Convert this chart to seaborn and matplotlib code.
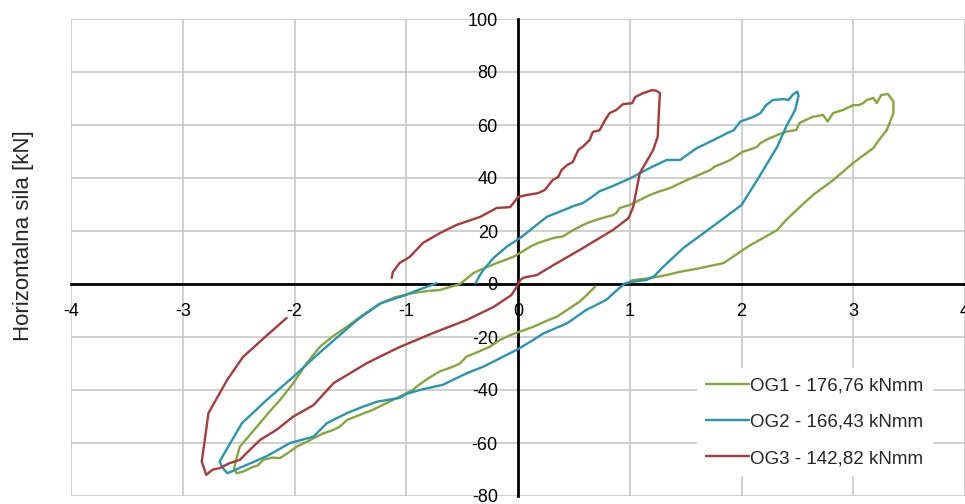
import numpy as np
import pandas as pd
import matplotlib
matplotlib.use("Agg")
import matplotlib.pyplot as plt
import seaborn as sns
from matplotlib.lines import Line2D

# ---------------- data ----------------
series_names = ["OG1 - 176,76 kNmm", "OG2 - 166,43 kNmm", "OG3 - 142,82 kNmm"]
series_colors = ["#84A83C", "#2A95B2", "#AA3A3A"]

og1_disp = [0.69, 0.62, 0.55, 0.45, 0.35, 0.25, 0.14, 0.05, 0.0, -0.08, -0.16, -0.25, -0.35, -0.46,
            -0.52, -0.60, -0.70, -0.80, -0.90, -0.94, -1.06, -1.18, -1.30, -1.42, -1.53, -1.60, -1.65,
            -1.75, -1.86, -1.98, -2.05, -2.13, -2.20, -2.28, -2.33, -2.37, -2.42, -2.46, -2.52, -2.54,
            -2.53, -2.49, -2.40, -2.31, -2.22, -2.13, -2.01, -1.89, -1.77, -1.65, -1.53, -1.40, -1.23,
            -1.10, -0.94, -0.80, -0.70, -0.60, -0.52, -0.46, -0.40, -0.34, -0.27, -0.19, -0.10, -0.04,
            0.03, 0.11, 0.18, 0.26, 0.33, 0.40, 0.48, 0.55, 0.62, 0.70, 0.78, 0.85, 0.88, 0.91, 1.00,
            1.08, 1.18, 1.27, 1.36, 1.44, 1.51, 1.62, 1.72, 1.76, 1.83, 1.90, 2.01, 2.08, 2.14, 2.17,
            2.25, 2.32, 2.40, 2.49, 2.52, 2.58, 2.64, 2.73, 2.77, 2.82, 2.91, 3.00, 3.05, 3.09, 3.12,
            3.18, 3.21, 3.25, 3.31, 3.36, 3.36, 3.30, 3.21, 3.18, 3.09, 3.00, 2.82, 2.64, 2.52, 2.40,
            2.32, 2.20, 2.08, 1.99, 1.84, 1.63, 1.45, 1.33, 1.18, 1.03, 1.00]
og1_force = [-1.0, -4.0, -6.7, -9.5, -12.3, -14.0, -16.1, -17.5, -18.2, -19.5, -21.1, -23.6, -25.5, -27.4,
             -30.0, -31.5, -33.0, -35.5, -38.5, -40.0, -42.5, -45.0, -47.5, -49.5, -51.3, -54.0, -55.0,
             -56.5, -58.9, -61.4, -63.5, -65.7, -65.5, -66.4, -68.5, -69.0, -70.0, -70.8, -71.4, -69.5,
             -67.6, -61.4, -57.0, -52.5, -48.0, -43.8, -37.4, -29.8, -23.6, -19.5, -16.1, -12.0, -7.3,
             -5.0, -3.4, -2.6, -2.3, -1.0, 0.0, 2.0, 4.1, 5.3, 6.5, 7.9, 9.3, 10.3,
             12.0, 14.1, 15.5, 16.6, 17.5, 17.9, 20.0, 21.6, 23.0, 24.2, 25.2, 26.0, 26.8, 28.7, 29.8,
             31.5, 33.6, 35.0, 36.2, 37.8, 39.2, 41.2, 43.0, 44.3, 45.5, 46.8, 49.9, 50.8, 51.8, 53.2,
             55.0, 56.2, 57.5, 58.1, 60.8, 62.0, 63.1, 63.8, 61.3, 64.5, 65.7, 67.5, 67.5, 68.3, 69.4,
             70.2, 68.3, 71.3, 71.7, 68.8, 64.5, 58.1, 53.2, 51.3, 48.5, 45.7, 39.2, 33.6, 29.0, 24.2,
             20.4, 17.5, 14.7, 12.2, 7.9, 6.0, 4.6, 3.4, 2.2, 1.5, 0.9]

og2_disp = [-0.38, -0.34, -0.31, -0.22, -0.10, 0.02, 0.11, 0.26, 0.41, 0.50, 0.58, 0.65, 0.73, 0.85,
            1.00, 1.18, 1.33, 1.45, 1.60, 1.72, 1.87, 1.93, 1.99, 2.11, 2.17, 2.22, 2.28, 2.38, 2.42,
            2.46, 2.50, 2.51, 2.48, 2.40, 2.32, 2.14, 2.00, 1.78, 1.48, 1.30, 1.22, 1.15, 1.03, 0.96,
            0.88, 0.79, 0.61, 0.44, 0.23, 0.14, 0.0, -0.16, -0.31, -0.46, -0.67, -0.88, -1.00, -1.06,
            -1.26, -1.40, -1.53, -1.71, -1.83, -2.04, -2.25, -2.43, -2.55, -2.60, -2.64, -2.67, -2.61,
            -2.47, -2.25, -2.01, -1.83, -1.68, -1.44, -1.23, -1.00, -0.94, -0.73]
og2_force = [0.3, 3.4, 5.3, 9.8, 14.1, 17.4, 20.4, 25.4, 27.9, 29.5, 30.5, 32.5, 35.0, 37.0,
             39.8, 43.8, 46.8, 46.8, 51.3, 53.7, 56.9, 58.0, 61.3, 63.1, 64.5, 67.5, 69.4, 69.8, 69.4,
             71.5, 72.6, 71.0, 65.7, 59.4, 51.8, 39.2, 29.8, 22.9, 13.6, 6.5, 3.0, 1.5, 0.9, 0.3,
             -2.5, -6.0, -9.8, -14.8, -18.6, -21.0, -24.6, -28.0, -31.2, -33.7, -38.0, -40.0, -41.5, -43.0,
             -44.4, -46.5, -48.7, -52.5, -57.6, -60.0, -65.0, -68.3, -70.5, -71.4, -69.5, -67.0, -62.6,
             -52.5, -43.8, -35.0, -28.0, -22.4, -13.6, -7.3, -4.1, -3.0, 0.3]

og3_disp = [-2.07, -2.25, -2.46, -2.60, -2.77, -2.80, -2.83, -2.79, -2.73, -2.67, -2.58, -2.49, -2.40,
            -2.31, -2.16, -2.01, -1.83, -1.65, -1.50, -1.35, -1.06, -0.76, -0.46, -0.22, -0.06, -0.01,
            0.02, 0.05, 0.17, 0.32, 0.55, 0.85, 0.99, 1.03, 1.09, 1.21, 1.25, 1.26, 1.27, 1.24, 1.20,
            1.12, 1.05, 1.02, 0.94, 0.88, 0.82, 0.78, 0.73, 0.67, 0.64, 0.58, 0.54, 0.49, 0.44, 0.39,
            0.36, 0.31, 0.24, 0.18, 0.08, 0.0, -0.07, -0.19, -0.34, -0.55, -0.70, -0.85, -0.97, -1.06,
            -1.12, -1.13]
og3_force = [-12.8, -19.5, -27.5, -36.0, -48.7, -58.0, -67.0, -72.0, -70.0, -69.5, -67.6, -66.4, -62.6,
             -58.9, -55.0, -50.0, -45.7, -37.4, -33.6, -29.8, -23.8, -18.5, -13.6, -8.7, -4.2, -1.0,
             1.5, 2.4, 3.4, 7.2, 12.8, 20.4, 24.9, 29.0, 41.8, 50.6, 55.6, 64.4, 72.0, 72.9, 73.2,
             72.0, 70.6, 68.2, 67.9, 65.7, 64.5, 61.9, 58.0, 57.4, 54.3, 51.8, 50.6, 46.0, 44.9, 43.0,
             40.4, 39.2, 35.5, 34.3, 33.6, 32.8, 29.0, 28.7, 25.3, 22.3, 19.2, 15.5, 10.2, 7.9,
             4.5, 2.3]

x_ticks = [-4, -3, -2, -1, 0, 1, 2, 3, 4]
y_ticks = [-80, -60, -40, -20, 0, 20, 40, 60, 80, 100]
y_label = "Horizontalna sila [kN]"

# ---------------- build table ----------------
frames = []
for name, xs, ys in zip(series_names, [og1_disp, og2_disp, og3_disp], [og1_force, og2_force, og3_force]):
    frames.append(pd.DataFrame({"series": name, "disp": xs, "force": ys}))
df = pd.concat(frames, ignore_index=True)

# ---------------- style ----------------
sns.set_style("white")
plt.rcParams["font.family"] = ["Liberation Sans", "DejaVu Sans"]

fig = plt.figure(figsize=(9.65, 5.04), dpi=100)
ax = fig.add_axes([71 / 965, 8 / 504, 1 - 71 / 965, 477 / 504])

sns.lineplot(data=df, x="disp", y="force", hue="series", hue_order=series_names,
             palette=series_colors, sort=False, estimator=None, linewidth=1.7,
             legend=False, ax=ax, zorder=3)

ax.set_xlim(-4, 4)
ax.set_ylim(-80, 100)
ax.set_xticks(x_ticks)
ax.set_yticks(y_ticks)
ax.set_xticklabels([str(v) for v in x_ticks])
ax.set_yticklabels([str(v) for v in y_ticks])
ax.set_xlabel("")
ax.set_ylabel("")

ax.grid(True, color="#c4c4c4", linewidth=1.1)
ax.set_axisbelow(True)

for s in ["top", "right"]:
    ax.spines[s].set_visible(False)
ax.spines["left"].set_position(("data", 0))
ax.spines["bottom"].set_position(("data", 0))
for s in ["left", "bottom"]:
    ax.spines[s].set_color("black")
    ax.spines[s].set_linewidth(2.0)
    ax.spines[s].set_zorder(2.5)

ax.tick_params(axis="both", direction="inout", length=7, width=1.8, color="black",
               labelsize=13, labelcolor="black")
ax.tick_params(axis="x", pad=10)
ax.tick_params(axis="y", pad=11)

fig.text(24 / 965, 1 - 236 / 504, y_label, rotation=90, ha="center", va="center",
         fontsize=16)

handles = [Line2D([0], [0], color=c, lw=1.7) for c in series_colors]
leg = ax.legend(handles, series_names, loc="upper left",
                bbox_to_anchor=(697 / 965, 1 - 368 / 504), bbox_transform=fig.transFigure,
                frameon=True, fancybox=False, facecolor="white", edgecolor="none", framealpha=1,
                fontsize=13.5, handlelength=2.25, handletextpad=0.1, labelspacing=1.02,
                borderpad=0.5, borderaxespad=0)
leg.set_zorder(5)

fig.savefig("out.png", dpi=100)
